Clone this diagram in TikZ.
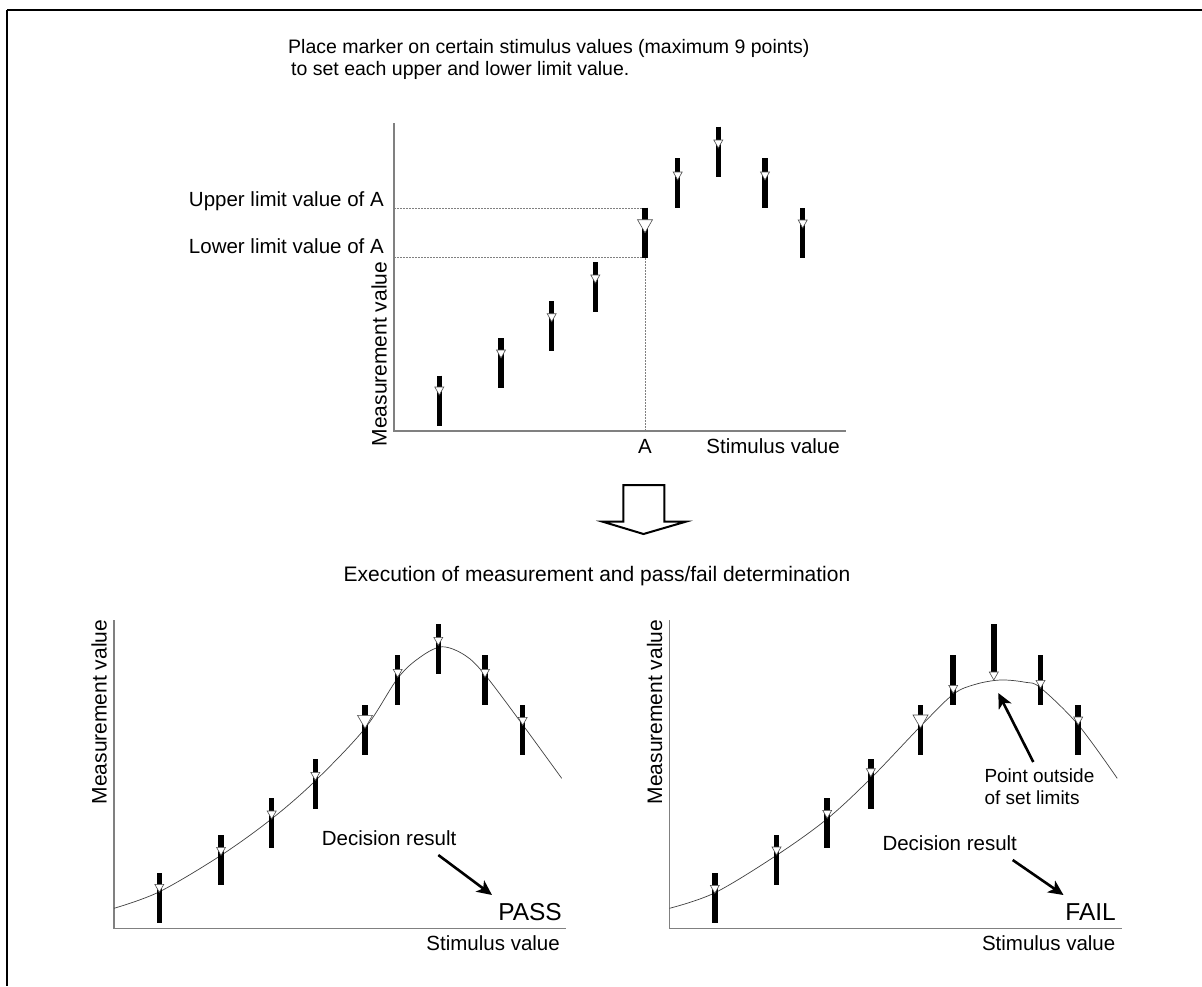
\documentclass[tikz,border=0pt]{standalone}
\usepackage{fontspec}
\setmainfont{Liberation Sans}
\usetikzlibrary{arrows.meta}
\newcommand\mkbar[3]{\draw[barline] (#1,#2) -- (#1,#2+50); \draw[marker] (#1-4.5,#3-8) -- (#1+4.5,#3-8) -- (#1,#3) -- cycle;}
\newcommand\mkbigbar[3]{\draw[barline] (#1,#2) -- (#1,#2+50); \draw[marker] (#1-7.5,#3-13) -- (#1+7.5,#3-13) -- (#1,#3) -- cycle;}
\newcommand\mkaxes{\draw[axis] (394,123) -- (394,431) -- (846,431);}
\begin{document}
\begin{tikzpicture}[x=1pt,y=-1pt,
  axis/.style={draw=gray, line width=1.2pt},
  guide/.style={draw=gray, line width=0.9pt, dash pattern=on 1.5pt off 1.5pt},
  barline/.style={line width=5.5pt, draw=black},
  marker/.style={fill=white, draw=black!70, line width=0.6pt},
  curve/.style={draw=black!75, line width=0.7pt},
  lbl/.style={inner sep=0pt, font=\fontsize{20.5}{24}\selectfont},
  ylbl/.style={inner sep=0pt, font=\fontsize{21}{24}\selectfont, anchor=base, rotate=90},
  title/.style={inner sep=0pt, font=\fontsize{19.5}{23}\selectfont},
  subtitle/.style={inner sep=0pt, font=\fontsize{21}{24}\selectfont},
  note/.style={inner sep=0pt, font=\fontsize{19}{22}\selectfont},
  verdict/.style={inner sep=0pt, font=\fontsize{24.5}{28}\selectfont},
  pointer/.style={line width=2.6pt, -{Stealth[length=15pt,width=14pt,inset=4pt]}},
  hollow/.style={draw=black, line width=2pt, fill=white, line join=miter}
]
\useasboundingbox (0,0) rectangle (1202,986);
\draw[line width=2pt] (7,10) -- (1202,10);
\draw[line width=1.4pt] (7,10) -- (7,986);
\node[title, anchor=base west] (t1) at (288,53) {Place marker on certain stimulus values (maximum 9 points)};
\node[title, anchor=base west] (t2) at (291,75) {to set each upper and lower limit value.};
\mkaxes
\draw[guide] (394,208) -- (645,208);
\draw[guide] (394,257) -- (645,257) -- (645,431);
\mkbar{439.3}{375.7}{395}
\mkbar{501}{338}{358}
\mkbar{551.7}{301}{321.7}
\mkbar{595.3}{262}{283}
\mkbigbar{645}{207.7}{232.7}
\mkbar{677.7}{158}{180}
\mkbar{718.3}{126.7}{148}
\mkbar{765}{158}{180}
\mkbar{802.7}{208}{228}
\node[lbl, anchor=base east] (up) at (384,206) {Upper limit value of A};
\node[lbl, anchor=base east] (lo) at (384,253) {Lower limit value of A};
\node[lbl, anchor=base] (a) at (645,453) {A};
\node[lbl, anchor=base east] (sx1) at (840,453) {Stimulus value};
\node[ylbl] (my1) at (386.5,354) {Measurement value};
\draw[hollow] (623.3,485) -- (664.3,485) -- (664.3,521.7) -- (685.7,521.7) -- (643.5,534) -- (602.7,521.7) -- (623.3,521.7) -- cycle;
\node[subtitle, anchor=base] (exe) at (597,581) {Execution of measurement and pass/fail determination};
\begin{scope}[shift={(-280,497.3)}]
\mkaxes
\draw[curve] plot[smooth, tension=0.55] coordinates {(394,411) (439.3,394.5) (501,358) (551.7,321.5) (595.3,283.5) (645,231) (677.7,181) (700,160) (722,149.5) (745,158) (765,177.5) (802.7,227.5) (841.7,281)};
\mkbar{439.3}{375.7}{395}
\mkbar{501}{338}{358}
\mkbar{551.7}{301}{321.7}
\mkbar{595.3}{262}{283}
\mkbigbar{645}{207.7}{231}
\mkbar{677.7}{158}{180}
\mkbar{718.3}{126.7}{148}
\mkbar{765}{158}{180}
\mkbar{802.7}{208}{228}
\end{scope}
\node[lbl, anchor=base east] (sx2) at (560,950.5) {Stimulus value};
\node[ylbl] (my2) at (106.5,712) {Measurement value};
\node[lbl, anchor=base west] (dr1) at (321.7,845.5) {Decision result};
\node[verdict, anchor=base east] (pass) at (562,920) {PASS};
\coordinate (p1s) at (438.3,855);
\coordinate (p1e) at (492,895);
\draw[pointer] (p1s) -- (p1e);
\begin{scope}[shift={(275.5,497.3)}]
\mkaxes
\draw[curve] plot[smooth, tension=0.55] coordinates {(394,411) (439.3,395.5) (501,358) (551.7,321.5) (595.3,281) (645,229) (677.7,197) (700,187) (725,182.7) (750,185) (765,190.5) (802.7,227.5) (841.7,281)};
\mkbar{439.3}{375.7}{396}
\mkbar{501}{338}{357.7}
\mkbar{551.7}{301}{321}
\mkbar{595.3}{262}{279.4}
\mkbigbar{645}{207.7}{230.7}
\mkbar{677.7}{158}{196}
\mkbar{718.3}{126.7}{182.7}
\mkbar{765}{158}{191}
\mkbar{802.7}{208}{227.7}
\end{scope}
\node[lbl, anchor=base east] (sx3) at (1115.5,950.5) {Stimulus value};
\node[ylbl] (my3) at (662,712) {Measurement value};
\node[lbl, anchor=base west] (dr2) at (882.3,850) {Decision result};
\node[verdict, anchor=base east] (fail) at (1116,920) {FAIL};
\node[note, anchor=base west] (po1) at (984.3,782) {Point outside};
\node[note, anchor=base west] (po2) at (984.3,804) {of set limits};
\coordinate (p2s) at (1012.7,860);
\coordinate (p2e) at (1063.5,895);
\draw[pointer] (p2s) -- (p2e);
\coordinate (p3s) at (1033.3,762);
\coordinate (p3e) at (998.3,693);
\draw[pointer] (p3s) -- (p3e);
\end{tikzpicture}
\end{document}
